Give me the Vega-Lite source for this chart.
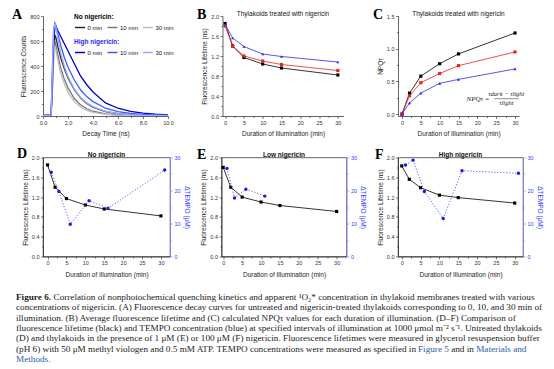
{
 "$schema": "https://vega.github.io/schema/vega-lite/v6.json",
 "background": "white",
 "padding": {"left": 12, "top": 8, "right": 2, "bottom": 2},
 "config": {
  "font": "Liberation Sans",
  "view": {"stroke": null},
  "axis": {"labelFont": "Liberation Sans", "titleFont": "Liberation Sans", "labelFontSize": 5.5, "labelColor": "#333", "titleFontSize": 6.5, "titleFontWeight": "normal", "titleColor": "#222", "domainColor": "#222", "domainWidth": 0.7, "tickColor": "#222", "tickWidth": 0.6, "tickSize": 2.5, "grid": false, "labelPadding": 1.5, "titlePadding": 3, "labelFlush": false, "labelOverlap": false},
  "axisX": {"titlePadding": 5},
  "legend": {"labelFont": "Liberation Sans", "titleFont": "Liberation Sans", "labelFontSize": 6, "titleFontSize": 6.5},
  "title": {"font": "Liberation Sans", "fontSize": 6.5, "color": "#111", "fontWeight": "normal", "offset": 2}
 },
 "datasets": {
  "decay": [
   {"g":"N","s":"0 min","t":0,"c":5},{"g":"N","s":"0 min","t":0.5,"c":5},{"g":"N","s":"0 min","t":0.65,"c":8},{"g":"N","s":"0 min","t":0.75,"c":250},{"g":"N","s":"0 min","t":0.85,"c":520},{"g":"N","s":"0 min","t":0.95,"c":650},{"g":"N","s":"0 min","t":1.05,"c":620},{"g":"N","s":"0 min","t":1.2,"c":550},{"g":"N","s":"0 min","t":1.4,"c":470},{"g":"N","s":"0 min","t":1.7,"c":380},{"g":"N","s":"0 min","t":2,"c":305},{"g":"N","s":"0 min","t":2.5,"c":210},{"g":"N","s":"0 min","t":3,"c":145},{"g":"N","s":"0 min","t":3.5,"c":100},{"g":"N","s":"0 min","t":4,"c":70},{"g":"N","s":"0 min","t":5,"c":35},{"g":"N","s":"0 min","t":6,"c":18},{"g":"N","s":"0 min","t":7,"c":10},{"g":"N","s":"0 min","t":8,"c":6},{"g":"N","s":"0 min","t":9,"c":4},{"g":"N","s":"0 min","t":10,"c":3},
   {"g":"N","s":"10 min","t":0,"c":5},{"g":"N","s":"10 min","t":0.5,"c":5},{"g":"N","s":"10 min","t":0.65,"c":8},{"g":"N","s":"10 min","t":0.75,"c":220},{"g":"N","s":"10 min","t":0.85,"c":480},{"g":"N","s":"10 min","t":0.95,"c":600},{"g":"N","s":"10 min","t":1.05,"c":560},{"g":"N","s":"10 min","t":1.2,"c":480},{"g":"N","s":"10 min","t":1.4,"c":390},{"g":"N","s":"10 min","t":1.7,"c":295},{"g":"N","s":"10 min","t":2,"c":225},{"g":"N","s":"10 min","t":2.5,"c":140},{"g":"N","s":"10 min","t":3,"c":90},{"g":"N","s":"10 min","t":3.5,"c":58},{"g":"N","s":"10 min","t":4,"c":38},{"g":"N","s":"10 min","t":5,"c":17},{"g":"N","s":"10 min","t":6,"c":8},{"g":"N","s":"10 min","t":7,"c":5},{"g":"N","s":"10 min","t":8,"c":3},{"g":"N","s":"10 min","t":9,"c":2},{"g":"N","s":"10 min","t":10,"c":2},
   {"g":"N","s":"30 min","t":0,"c":5},{"g":"N","s":"30 min","t":0.5,"c":5},{"g":"N","s":"30 min","t":0.65,"c":8},{"g":"N","s":"30 min","t":0.75,"c":200},{"g":"N","s":"30 min","t":0.85,"c":450},{"g":"N","s":"30 min","t":0.95,"c":560},{"g":"N","s":"30 min","t":1.05,"c":520},{"g":"N","s":"30 min","t":1.2,"c":440},{"g":"N","s":"30 min","t":1.4,"c":350},{"g":"N","s":"30 min","t":1.7,"c":260},{"g":"N","s":"30 min","t":2,"c":190},{"g":"N","s":"30 min","t":2.5,"c":115},{"g":"N","s":"30 min","t":3,"c":72},{"g":"N","s":"30 min","t":3.5,"c":45},{"g":"N","s":"30 min","t":4,"c":29},{"g":"N","s":"30 min","t":5,"c":13},{"g":"N","s":"30 min","t":6,"c":6},{"g":"N","s":"30 min","t":7,"c":4},{"g":"N","s":"30 min","t":8,"c":2},{"g":"N","s":"30 min","t":9,"c":2},{"g":"N","s":"30 min","t":10,"c":2},
   {"g":"H","s":"0 min","t":0,"c":5},{"g":"H","s":"0 min","t":0.5,"c":5},{"g":"H","s":"0 min","t":0.65,"c":10},{"g":"H","s":"0 min","t":0.75,"c":300},{"g":"H","s":"0 min","t":0.85,"c":600},{"g":"H","s":"0 min","t":0.95,"c":700},{"g":"H","s":"0 min","t":1.05,"c":715},{"g":"H","s":"0 min","t":1.2,"c":680},{"g":"H","s":"0 min","t":1.4,"c":640},{"g":"H","s":"0 min","t":1.7,"c":580},{"g":"H","s":"0 min","t":2,"c":520},{"g":"H","s":"0 min","t":2.5,"c":420},{"g":"H","s":"0 min","t":3,"c":320},{"g":"H","s":"0 min","t":3.5,"c":250},{"g":"H","s":"0 min","t":4,"c":192},{"g":"H","s":"0 min","t":5,"c":105},{"g":"H","s":"0 min","t":6,"c":62},{"g":"H","s":"0 min","t":7,"c":37},{"g":"H","s":"0 min","t":8,"c":23},{"g":"H","s":"0 min","t":9,"c":14},{"g":"H","s":"0 min","t":10,"c":9},
   {"g":"H","s":"10 min","t":0,"c":5},{"g":"H","s":"10 min","t":0.5,"c":5},{"g":"H","s":"10 min","t":0.65,"c":10},{"g":"H","s":"10 min","t":0.75,"c":350},{"g":"H","s":"10 min","t":0.85,"c":680},{"g":"H","s":"10 min","t":0.95,"c":745},{"g":"H","s":"10 min","t":1.05,"c":720},{"g":"H","s":"10 min","t":1.2,"c":650},{"g":"H","s":"10 min","t":1.4,"c":570},{"g":"H","s":"10 min","t":1.7,"c":470},{"g":"H","s":"10 min","t":2,"c":390},{"g":"H","s":"10 min","t":2.5,"c":290},{"g":"H","s":"10 min","t":3,"c":210},{"g":"H","s":"10 min","t":3.5,"c":155},{"g":"H","s":"10 min","t":4,"c":115},{"g":"H","s":"10 min","t":5,"c":62},{"g":"H","s":"10 min","t":6,"c":35},{"g":"H","s":"10 min","t":7,"c":20},{"g":"H","s":"10 min","t":8,"c":12},{"g":"H","s":"10 min","t":9,"c":8},{"g":"H","s":"10 min","t":10,"c":5},
   {"g":"H","s":"30 min","t":0,"c":5},{"g":"H","s":"30 min","t":0.5,"c":5},{"g":"H","s":"30 min","t":0.65,"c":10},{"g":"H","s":"30 min","t":0.75,"c":380},{"g":"H","s":"30 min","t":0.85,"c":700},{"g":"H","s":"30 min","t":0.95,"c":740},{"g":"H","s":"30 min","t":1.05,"c":700},{"g":"H","s":"30 min","t":1.2,"c":610},{"g":"H","s":"30 min","t":1.4,"c":510},{"g":"H","s":"30 min","t":1.7,"c":400},{"g":"H","s":"30 min","t":2,"c":315},{"g":"H","s":"30 min","t":2.5,"c":215},{"g":"H","s":"30 min","t":3,"c":150},{"g":"H","s":"30 min","t":3.5,"c":105},{"g":"H","s":"30 min","t":4,"c":75},{"g":"H","s":"30 min","t":5,"c":38},{"g":"H","s":"30 min","t":6,"c":20},{"g":"H","s":"30 min","t":7,"c":11},{"g":"H","s":"30 min","t":8,"c":6},{"g":"H","s":"30 min","t":9,"c":4},{"g":"H","s":"30 min","t":10,"c":3}
  ],
  "life": [
   {"cond":"No nigericin","min":0,"lt":1.85,"npq":0},{"cond":"No nigericin","min":2,"lt":1.40,"npq":0.32},{"cond":"No nigericin","min":5,"lt":1.17,"npq":0.58},{"cond":"No nigericin","min":10,"lt":1.04,"npq":0.77},{"cond":"No nigericin","min":15,"lt":0.96,"npq":0.92},{"cond":"No nigericin","min":30,"lt":0.82,"npq":1.24},
   {"cond":"Low nigericin","min":0,"lt":1.80,"npq":0},{"cond":"Low nigericin","min":2,"lt":1.40,"npq":0.28},{"cond":"Low nigericin","min":5,"lt":1.20,"npq":0.48},{"cond":"Low nigericin","min":10,"lt":1.10,"npq":0.62},{"cond":"Low nigericin","min":15,"lt":1.03,"npq":0.74},{"cond":"Low nigericin","min":30,"lt":0.91,"npq":0.95},
   {"cond":"High nigericin","min":0,"lt":1.83,"npq":0},{"cond":"High nigericin","min":2,"lt":1.56,"npq":0.17},{"cond":"High nigericin","min":5,"lt":1.39,"npq":0.32},{"cond":"High nigericin","min":10,"lt":1.24,"npq":0.47},{"cond":"High nigericin","min":15,"lt":1.19,"npq":0.53},{"cond":"High nigericin","min":30,"lt":1.08,"npq":0.69}
  ],
  "tempo": [
   {"cond":"No nigericin","min":1,"tempo":25.5},{"cond":"No nigericin","min":3,"tempo":19.7},{"cond":"No nigericin","min":6,"tempo":9.8},{"cond":"No nigericin","min":11,"tempo":16.9},{"cond":"No nigericin","min":16,"tempo":14.6},{"cond":"No nigericin","min":31,"tempo":26.2},
   {"cond":"Low nigericin","min":1,"tempo":26.7},{"cond":"Low nigericin","min":3,"tempo":17.7},{"cond":"Low nigericin","min":6,"tempo":20.4},{"cond":"Low nigericin","min":11,"tempo":18.3},
   {"cond":"High nigericin","min":1,"tempo":27.7},{"cond":"High nigericin","min":3,"tempo":29.2},{"cond":"High nigericin","min":6,"tempo":19.7},{"cond":"High nigericin","min":11,"tempo":11.5},{"cond":"High nigericin","min":16,"tempo":26.0},{"cond":"High nigericin","min":31,"tempo":25.2}
  ],
  "caption": [
   {"line":1,"part":"bold","text":"Figure 6."},
   {"line":1,"part":"rest","text":"Correlation of nonphotochemical quenching kinetics and apparent ¹O₂* concentration in thylakoid membranes treated with various"},
   {"line":2,"part":"main","text":"concentrations of nigericin. (A) Fluorescence decay curves for untreated and nigericin-treated thylakoids corresponding to 0, 10, and 30 min of"},
   {"line":3,"part":"main","text":"illumination. (B) Average fluorescence lifetime and (C) calculated NPQτ values for each duration of illumination. (D–F) Comparison of"},
   {"line":4,"part":"main","text":"fluorescence lifetime (black) and TEMPO concentration (blue) at specified intervals of illumination at 1000 μmol m⁻² s⁻¹. Untreated thylakoids"},
   {"line":5,"part":"main","text":"(D) and thylakoids in the presence of 1 μM (E) or 100 μM (F) nigericin. Fluorescence lifetimes were measured in glycerol resuspension buffer"},
   {"line":6,"part":"main","text":"(pH 6) with 50 μM methyl viologen and 0.5 mM ATP. TEMPO concentrations were measured as specified in"},
   {"line":6,"part":"link1","text":"Figure 5"},
   {"line":6,"part":"mid","text":"and in"},
   {"line":6,"part":"link2","text":"Materials and"},
   {"line":7,"part":"link3","text":"Methods."}
  ]
 },
 "spacing": 14,
 "vconcat": [
  {
   "spacing": 9.5,
   "vconcat": [
    {
     "bounds": "flush",
     "spacing": 54.5,
     "hconcat": [
      {
       "width": 125, "height": 100,
       "layer": [
        {
         "data": {"name": "decay"},
         "transform": [{"filter": "datum.g === 'N'"}],
         "mark": {"type": "line", "strokeWidth": 1.3, "clip": true},
         "encoding": {
          "x": {"field": "t", "type": "quantitative", "scale": {"domain": [0, 10], "nice": false}, "axis": {"title": "Decay Time (ns)", "values": [0,1,2,3,4,5,6,7,8,9,10], "tickCount": 40, "labelExpr": "datum.value % 2 === 0 ? datum.label : ''", "tickSize": {"condition": {"test": "datum.value % 2 === 0", "value": 2.5}, "value": 1.5}}},
          "y": {"field": "c", "type": "quantitative", "scale": {"domain": [0, 800], "nice": false}, "axis": {"title": "Fluorescence Counts", "values": [0,100,200,300,400,500,600,700,800], "tickCount": 40, "labelExpr": "datum.value % 200 === 0 ? datum.label : ''", "tickSize": {"condition": {"test": "datum.value % 200 === 0", "value": 2.5}, "value": 1.5}}},
          "color": {"field": "s", "type": "nominal", "sort": ["0 min", "10 min", "30 min"], "scale": {"domain": ["0 min", "10 min", "30 min"], "range": ["#2b2b2b", "#7a7a7a", "#bdbdbd"]},
           "legend": {"title": "No nigericin:", "orient": "none", "legendX": 31, "legendY": -2, "direction": "horizontal", "symbolType": "stroke", "symbolSize": 100, "symbolStrokeWidth": 1.5, "labelFontSize": 6, "titleFontSize": 6.5, "titleFontWeight": "bold", "titleColor": "#000", "labelColor": "#111", "titlePadding": 1, "columnPadding": 1.5, "labelOffset": 1.5}}
         }
        },
        {
         "data": {"name": "decay"},
         "transform": [{"filter": "datum.g === 'H'"}],
         "mark": {"type": "line", "strokeWidth": 1.3, "clip": true},
         "encoding": {
          "x": {"field": "t", "type": "quantitative", "scale": {"domain": [0, 10], "nice": false}, "axis": {"title": "Decay Time (ns)", "values": [0,1,2,3,4,5,6,7,8,9,10], "tickCount": 40, "labelExpr": "datum.value % 2 === 0 ? datum.label : ''", "tickSize": {"condition": {"test": "datum.value % 2 === 0", "value": 2.5}, "value": 1.5}}},
          "y": {"field": "c", "type": "quantitative", "scale": {"domain": [0, 800], "nice": false}, "axis": {"title": "Fluorescence Counts", "values": [0,100,200,300,400,500,600,700,800], "tickCount": 40, "labelExpr": "datum.value % 200 === 0 ? datum.label : ''", "tickSize": {"condition": {"test": "datum.value % 200 === 0", "value": 2.5}, "value": 1.5}}},
          "color": {"field": "s", "type": "nominal", "sort": ["0 min", "10 min", "30 min"], "scale": {"domain": ["0 min", "10 min", "30 min"], "range": ["#0000c8", "#3d5cff", "#9caaff"]},
           "legend": {"title": "High nigericin:", "orient": "none", "legendX": 31, "legendY": 23, "direction": "horizontal", "symbolType": "stroke", "symbolSize": 100, "symbolStrokeWidth": 1.5, "labelFontSize": 6, "titleFontSize": 6.5, "titleFontWeight": "bold", "titleColor": "#2a2aee", "labelColor": "#111", "titlePadding": 1, "columnPadding": 1.5, "labelOffset": 1.5}}
         }
        },
        {
         "data": {"values": [{}]},
         "mark": {"type": "text", "font": "Liberation Serif", "fontSize": 14, "fontWeight": "bold", "align": "left", "baseline": "middle", "color": "#000"},
         "encoding": {"x": {"datum": -2.48, "type": "quantitative"}, "y": {"datum": 808, "type": "quantitative"}, "text": {"value": "A"}}
        }
       ],
       "resolve": {"scale": {"color": "independent"}}
      },
      {
       "width": 121, "height": 100,
       "title": {"text": "Thylakoids treated with nigericin", "dy": 11},
       "layer": [
        {
         "data": {"name": "life"},
         "mark": {"type": "line", "strokeWidth": 0.8},
         "encoding": {
          "x": {"field": "min", "type": "quantitative", "scale": {"domain": [-0.7, 31.5], "nice": false}, "axis": {"title": "Duration of Illumination (min)", "values": [0,2.5,5,7.5,10,12.5,15,17.5,20,22.5,25,27.5,30], "tickCount": 40, "labelExpr": "datum.value % 5 === 0 ? datum.label : ''", "tickSize": {"condition": {"test": "datum.value % 5 === 0", "value": 2.5}, "value": 1.5}}},
          "y": {"field": "lt", "type": "quantitative", "scale": {"domain": [0, 2], "nice": false}, "axis": {"title": "Fluorescence Lifetime (ns)", "values": [0,0.2,0.4,0.6,0.8,1.0,1.2,1.4,1.6,1.8,2.0], "format": ".1f", "tickCount": 40, "labelExpr": "round(datum.value*10) % 4 === 0 ? datum.label : ''", "tickSize": {"condition": {"test": "round(datum.value*10) % 4 === 0", "value": 2.5}, "value": 1.5}}},
          "color": {"field": "cond", "type": "nominal", "scale": {"domain": ["No nigericin", "Low nigericin", "High nigericin"], "range": ["#000000", "#e8231f", "#2b2bf0"]}, "legend": null}
         }
        },
        {
         "data": {"name": "life"},
         "mark": {"type": "point", "filled": true, "size": 10, "opacity": 1},
         "encoding": {
          "x": {"field": "min", "type": "quantitative"},
          "y": {"field": "lt", "type": "quantitative"},
          "color": {"field": "cond", "type": "nominal", "scale": {"domain": ["No nigericin", "Low nigericin", "High nigericin"], "range": ["#000000", "#e8231f", "#2b2bf0"]},
           "legend": {"title": null, "orient": "top-right", "offset": 5, "labelFontSize": 6.5, "labelFontWeight": "bold", "symbolSize": 14, "rowPadding": 0.5, "labelOffset": 3,
            "encode": {"labels": {"update": {"fill": {"signal": "datum.value === 'No nigericin' ? '#000000' : datum.value === 'Low nigericin' ? '#e8231f' : '#2b2bf0'"}}}}}},
          "shape": {"field": "cond", "type": "nominal", "scale": {"domain": ["No nigericin", "Low nigericin", "High nigericin"], "range": ["square", "square", "triangle-up"]},
           "legend": {"title": null, "orient": "top-right", "offset": 5, "labelFontSize": 6.5, "labelFontWeight": "bold", "symbolSize": 14, "rowPadding": 0.5, "labelOffset": 3,
            "encode": {"labels": {"update": {"fill": {"signal": "datum.value === 'No nigericin' ? '#000000' : datum.value === 'Low nigericin' ? '#e8231f' : '#2b2bf0'"}}}}}}
         }
        },
        {
         "data": {"values": [{}]},
         "mark": {"type": "text", "font": "Liberation Serif", "fontSize": 14, "fontWeight": "bold", "align": "left", "baseline": "middle", "color": "#000"},
         "encoding": {"x": {"datum": -7.5, "type": "quantitative"}, "y": {"datum": 2.02, "type": "quantitative"}, "text": {"value": "B"}}
        }
       ]
      },
      {
       "width": 121, "height": 100,
       "title": {"text": "Thylakoids treated with nigericin", "dy": 11},
       "layer": [
        {
         "data": {"name": "life"},
         "mark": {"type": "line", "strokeWidth": 0.8},
         "encoding": {
          "x": {"field": "min", "type": "quantitative", "scale": {"domain": [-1.06, 31.06], "nice": false}, "axis": {"title": "Duration of Illumination (min)", "values": [0,2.5,5,7.5,10,12.5,15,17.5,20,22.5,25,27.5,30], "tickCount": 40, "labelExpr": "datum.value % 5 === 0 ? datum.label : ''", "tickSize": {"condition": {"test": "datum.value % 5 === 0", "value": 2.5}, "value": 1.5}}},
          "y": {"field": "npq", "type": "quantitative", "scale": {"domain": [-0.03, 1.5], "nice": false}, "axis": {"title": "NPQτ", "values": [0,0.25,0.5,0.75,1.0,1.25,1.5], "format": ".1f", "tickCount": 40, "labelExpr": "round(datum.value*4) % 2 === 0 ? datum.label : ''", "tickSize": {"condition": {"test": "round(datum.value*4) % 2 === 0", "value": 2.5}, "value": 1.5}}},
          "color": {"field": "cond", "type": "nominal", "scale": {"domain": ["No nigericin", "Low nigericin", "High nigericin"], "range": ["#000000", "#e8231f", "#2b2bf0"]}, "legend": null}
         }
        },
        {
         "data": {"name": "life"},
         "mark": {"type": "point", "filled": true, "size": 10, "opacity": 1},
         "encoding": {
          "x": {"field": "min", "type": "quantitative"},
          "y": {"field": "npq", "type": "quantitative"},
          "color": {"field": "cond", "type": "nominal", "scale": {"domain": ["No nigericin", "Low nigericin", "High nigericin"], "range": ["#000000", "#e8231f", "#2b2bf0"]},
           "legend": {"title": null, "orient": "top-left", "offset": 6, "labelFontSize": 6.5, "labelFontWeight": "bold", "symbolSize": 14, "rowPadding": 0.5, "labelOffset": 3,
            "encode": {"labels": {"update": {"fill": {"signal": "datum.value === 'No nigericin' ? '#000000' : datum.value === 'Low nigericin' ? '#e8231f' : '#2b2bf0'"}}}}}},
          "shape": {"field": "cond", "type": "nominal", "scale": {"domain": ["No nigericin", "Low nigericin", "High nigericin"], "range": ["square", "square", "triangle-up"]},
           "legend": {"title": null, "orient": "top-left", "offset": 6, "labelFontSize": 6.5, "labelFontWeight": "bold", "symbolSize": 14, "rowPadding": 0.5, "labelOffset": 3,
            "encode": {"labels": {"update": {"fill": {"signal": "datum.value === 'No nigericin' ? '#000000' : datum.value === 'Low nigericin' ? '#e8231f' : '#2b2bf0'"}}}}}}
         }
        },
        {
         "data": {"values": [{}]},
         "mark": {"type": "text", "font": "Liberation Serif", "fontSize": 14, "fontWeight": "bold", "align": "left", "baseline": "middle", "color": "#000"},
         "encoding": {"x": {"datum": -7.7, "type": "quantitative"}, "y": {"datum": 1.515, "type": "quantitative"}, "text": {"value": "C"}}
        },
        {
         "data": {"values": [{}]},
         "mark": {"type": "text", "font": "Liberation Serif", "fontSize": 7, "fontStyle": "italic", "align": "center", "baseline": "middle", "color": "#222"},
         "encoding": {"x": {"datum": 20.2, "type": "quantitative"}, "y": {"datum": 0.235, "type": "quantitative"}, "text": {"value": "NPQτ ="}}
        },
        {
         "data": {"values": [{}]},
         "mark": {"type": "text", "font": "Liberation Serif", "fontSize": 6.5, "fontStyle": "italic", "align": "center", "baseline": "middle", "color": "#222"},
         "encoding": {"x": {"datum": 27.7, "type": "quantitative"}, "y": {"datum": 0.3, "type": "quantitative"}, "text": {"value": "τdark − τlight"}}
        },
        {
         "data": {"values": [{}]},
         "mark": {"type": "text", "font": "Liberation Serif", "fontSize": 6.5, "fontStyle": "italic", "align": "center", "baseline": "middle", "color": "#222"},
         "encoding": {"x": {"datum": 27.7, "type": "quantitative"}, "y": {"datum": 0.17, "type": "quantitative"}, "text": {"value": "τlight"}}
        },
        {
         "data": {"values": [{}]},
         "mark": {"type": "rule", "color": "#222", "strokeWidth": 0.5},
         "encoding": {"x": {"datum": 24.5, "type": "quantitative"}, "x2": {"datum": 31}, "y": {"datum": 0.235, "type": "quantitative"}}
        }
       ]
      }
     ]
    },
    {
     "bounds": "flush",
     "spacing": 51.5,
     "hconcat": [
      {
       "width": 127, "height": 99,
       "title": {"text": "No nigericin", "fontWeight": "bold", "dy": 13.5},
       "view": {"stroke": "#222", "strokeWidth": 0.7},
       "layer": [
        {"layer": [
         {"data": {"name": "life"}, "transform": [{"filter": "datum.cond === 'No nigericin'"}],
          "mark": {"type": "line", "color": "#000", "strokeWidth": 0.8},
          "encoding": {"x": {"field": "min", "type": "quantitative", "scale": {"domain": [-1.2, 32.4], "nice": false}, "axis": {"title": "Duration of Illumination (min)", "values": [0,2.5,5,7.5,10,12.5,15,17.5,20,22.5,25,27.5,30], "tickCount": 40, "labelExpr": "datum.value % 5 === 0 ? datum.label : ''", "tickSize": {"condition": {"test": "datum.value % 5 === 0", "value": 2.5}, "value": 1.5}}},
                       "y": {"field": "lt", "type": "quantitative", "scale": {"domain": [0, 2], "nice": false}, "axis": {"title": "Fluorescence Lifetime (ns)", "values": [0,0.2,0.4,0.6,0.8,1.0,1.2,1.4,1.6,1.8,2.0], "format": ".1f", "tickCount": 40, "labelExpr": "round(datum.value*10) % 4 === 0 ? datum.label : ''", "tickSize": {"condition": {"test": "round(datum.value*10) % 4 === 0", "value": 2.5}, "value": 1.5}}}}},
         {"data": {"name": "life"}, "transform": [{"filter": "datum.cond === 'No nigericin'"}],
          "mark": {"type": "point", "shape": "square", "filled": true, "color": "#000", "size": 10, "opacity": 1},
          "encoding": {"x": {"field": "min", "type": "quantitative"}, "y": {"field": "lt", "type": "quantitative"}}},
         {"data": {"values": [{}]},
          "mark": {"type": "text", "font": "Liberation Serif", "fontSize": 14, "fontWeight": "bold", "align": "left", "baseline": "middle", "color": "#000"},
          "encoding": {"x": {"datum": -8.1, "type": "quantitative"}, "y": {"datum": 2.07, "type": "quantitative"}, "text": {"value": "D"}}}
        ]},
        {"layer": [
         {"data": {"name": "tempo"}, "transform": [{"filter": "datum.cond === 'No nigericin'"}],
          "mark": {"type": "line", "color": "#4d4dff", "strokeWidth": 0.9, "strokeDash": [1.2, 1.8]},
          "encoding": {"x": {"field": "min", "type": "quantitative"},
                       "y": {"field": "tempo", "type": "quantitative", "scale": {"domain": [0, 30], "nice": false}, "axis": {"orient": "right", "title": "ΔTEMPO (μM)", "values": [0,5,10,15,20,25,30], "tickCount": 40, "labelExpr": "datum.value % 10 === 0 ? datum.label : ''", "tickSize": {"condition": {"test": "datum.value % 10 === 0", "value": 2.5}, "value": 1.5}, "domainColor": "#8080ff", "tickColor": "#8080ff", "labelColor": "#3b3bff", "titleColor": "#3b3bff"}}}},
         {"data": {"name": "tempo"}, "transform": [{"filter": "datum.cond === 'No nigericin'"}],
          "mark": {"type": "point", "shape": "circle", "filled": true, "color": "#1a1aee", "size": 12, "opacity": 1},
          "encoding": {"x": {"field": "min", "type": "quantitative"}, "y": {"field": "tempo", "type": "quantitative"}}}
        ]}
       ],
       "resolve": {"scale": {"y": "independent"}}
      },
      {
       "width": 125, "height": 99,
       "title": {"text": "Low nigericin", "fontWeight": "bold", "dy": 12.5},
       "view": {"stroke": "#222", "strokeWidth": 0.7},
       "layer": [
        {"layer": [
         {"data": {"name": "life"}, "transform": [{"filter": "datum.cond === 'Low nigericin'"}],
          "mark": {"type": "line", "color": "#000", "strokeWidth": 0.8},
          "encoding": {"x": {"field": "min", "type": "quantitative", "scale": {"domain": [-0.45, 32.6], "nice": false}, "axis": {"title": "Duration of Illumination (min)", "values": [0,2.5,5,7.5,10,12.5,15,17.5,20,22.5,25,27.5,30], "tickCount": 40, "labelExpr": "datum.value % 5 === 0 ? datum.label : ''", "tickSize": {"condition": {"test": "datum.value % 5 === 0", "value": 2.5}, "value": 1.5}}},
                       "y": {"field": "lt", "type": "quantitative", "scale": {"domain": [0, 2], "nice": false}, "axis": {"title": "Fluorescence Lifetime (ns)", "values": [0,0.2,0.4,0.6,0.8,1.0,1.2,1.4,1.6,1.8,2.0], "format": ".1f", "tickCount": 40, "labelExpr": "round(datum.value*10) % 4 === 0 ? datum.label : ''", "tickSize": {"condition": {"test": "round(datum.value*10) % 4 === 0", "value": 2.5}, "value": 1.5}}}}},
         {"data": {"name": "life"}, "transform": [{"filter": "datum.cond === 'Low nigericin'"}],
          "mark": {"type": "point", "shape": "square", "filled": true, "color": "#000", "size": 10, "opacity": 1},
          "encoding": {"x": {"field": "min", "type": "quantitative"}, "y": {"field": "lt", "type": "quantitative"}}},
         {"data": {"values": [{}]},
          "mark": {"type": "text", "font": "Liberation Serif", "fontSize": 14, "fontWeight": "bold", "align": "left", "baseline": "middle", "color": "#000"},
          "encoding": {"x": {"datum": -6.9, "type": "quantitative"}, "y": {"datum": 2.05, "type": "quantitative"}, "text": {"value": "E"}}}
        ]},
        {"layer": [
         {"data": {"name": "tempo"}, "transform": [{"filter": "datum.cond === 'Low nigericin'"}],
          "mark": {"type": "line", "color": "#4d4dff", "strokeWidth": 0.9, "strokeDash": [1.2, 1.8]},
          "encoding": {"x": {"field": "min", "type": "quantitative"},
                       "y": {"field": "tempo", "type": "quantitative", "scale": {"domain": [0, 30], "nice": false}, "axis": {"orient": "right", "title": "ΔTEMPO (μM)", "values": [0,5,10,15,20,25,30], "tickCount": 40, "labelExpr": "datum.value % 10 === 0 ? datum.label : ''", "tickSize": {"condition": {"test": "datum.value % 10 === 0", "value": 2.5}, "value": 1.5}, "domainColor": "#8080ff", "tickColor": "#8080ff", "labelColor": "#3b3bff", "titleColor": "#3b3bff"}}}},
         {"data": {"name": "tempo"}, "transform": [{"filter": "datum.cond === 'Low nigericin'"}],
          "mark": {"type": "point", "shape": "circle", "filled": true, "color": "#1a1aee", "size": 12, "opacity": 1},
          "encoding": {"x": {"field": "min", "type": "quantitative"}, "y": {"field": "tempo", "type": "quantitative"}}}
        ]}
       ],
       "resolve": {"scale": {"y": "independent"}}
      },
      {
       "width": 125, "height": 99,
       "title": {"text": "High nigericin", "fontWeight": "bold", "dy": 12.5},
       "view": {"stroke": "#222", "strokeWidth": 0.7},
       "layer": [
        {"layer": [
         {"data": {"name": "life"}, "transform": [{"filter": "datum.cond === 'High nigericin'"}],
          "mark": {"type": "line", "color": "#000", "strokeWidth": 0.8},
          "encoding": {"x": {"field": "min", "type": "quantitative", "scale": {"domain": [-1.0, 32.2], "nice": false}, "axis": {"title": "Duration of Illumination (min)", "values": [0,2.5,5,7.5,10,12.5,15,17.5,20,22.5,25,27.5,30], "tickCount": 40, "labelExpr": "datum.value % 5 === 0 ? datum.label : ''", "tickSize": {"condition": {"test": "datum.value % 5 === 0", "value": 2.5}, "value": 1.5}}},
                       "y": {"field": "lt", "type": "quantitative", "scale": {"domain": [0, 2], "nice": false}, "axis": {"title": "Fluorescence Lifetime (ns)", "values": [0,0.2,0.4,0.6,0.8,1.0,1.2,1.4,1.6,1.8,2.0], "format": ".1f", "tickCount": 40, "labelExpr": "round(datum.value*10) % 4 === 0 ? datum.label : ''", "tickSize": {"condition": {"test": "round(datum.value*10) % 4 === 0", "value": 2.5}, "value": 1.5}}}}},
         {"data": {"name": "life"}, "transform": [{"filter": "datum.cond === 'High nigericin'"}],
          "mark": {"type": "point", "shape": "square", "filled": true, "color": "#000", "size": 10, "opacity": 1},
          "encoding": {"x": {"field": "min", "type": "quantitative"}, "y": {"field": "lt", "type": "quantitative"}}},
         {"data": {"values": [{}]},
          "mark": {"type": "text", "font": "Liberation Serif", "fontSize": 14, "fontWeight": "bold", "align": "left", "baseline": "middle", "color": "#000"},
          "encoding": {"x": {"datum": -7.1, "type": "quantitative"}, "y": {"datum": 2.05, "type": "quantitative"}, "text": {"value": "F"}}}
        ]},
        {"layer": [
         {"data": {"name": "tempo"}, "transform": [{"filter": "datum.cond === 'High nigericin'"}],
          "mark": {"type": "line", "color": "#4d4dff", "strokeWidth": 0.9, "strokeDash": [1.2, 1.8]},
          "encoding": {"x": {"field": "min", "type": "quantitative"},
                       "y": {"field": "tempo", "type": "quantitative", "scale": {"domain": [0, 30], "nice": false}, "axis": {"orient": "right", "title": "ΔTEMPO (μM)", "values": [0,5,10,15,20,25,30], "tickCount": 40, "labelExpr": "datum.value % 10 === 0 ? datum.label : ''", "tickSize": {"condition": {"test": "datum.value % 10 === 0", "value": 2.5}, "value": 1.5}, "domainColor": "#8080ff", "tickColor": "#8080ff", "labelColor": "#3b3bff", "titleColor": "#3b3bff"}}}},
         {"data": {"name": "tempo"}, "transform": [{"filter": "datum.cond === 'High nigericin'"}],
          "mark": {"type": "point", "shape": "circle", "filled": true, "color": "#1a1aee", "size": 12, "opacity": 1},
          "encoding": {"x": {"field": "min", "type": "quantitative"}, "y": {"field": "tempo", "type": "quantitative"}}}
        ]}
       ],
       "resolve": {"scale": {"y": "independent"}}
      }
     ]
    }
   ]
  },
  {
   "width": 522, "height": 72,
   "data": {"name": "caption"},
   "encoding": {
    "x": {"datum": 0, "type": "quantitative", "scale": {"domain": [0, 1], "range": [-27, 495]}, "axis": null},
    "y": {"field": "line", "type": "quantitative", "scale": {"domain": [0.5, 7.5], "reverse": true}, "axis": null},
    "text": {"field": "text"}
   },
   "layer": [
    {"transform": [{"filter": "datum.part === 'bold'"}], "mark": {"type": "text", "align": "left", "baseline": "middle", "font": "Liberation Serif", "fontSize": 9.2, "fontWeight": "bold", "color": "#222"}},
    {"transform": [{"filter": "datum.part === 'rest'"}], "mark": {"type": "text", "align": "left", "baseline": "middle", "font": "Liberation Serif", "fontSize": 9.2, "color": "#222", "dx": 37.5}},
    {"transform": [{"filter": "datum.part === 'main'"}], "mark": {"type": "text", "align": "left", "baseline": "middle", "font": "Liberation Serif", "fontSize": 9.2, "color": "#222"}},
    {"transform": [{"filter": "datum.part === 'link1'"}], "mark": {"type": "text", "align": "left", "baseline": "middle", "font": "Liberation Serif", "fontSize": 9.2, "color": "#2a5db0", "dx": 402}},
    {"transform": [{"filter": "datum.part === 'mid'"}], "mark": {"type": "text", "align": "left", "baseline": "middle", "font": "Liberation Serif", "fontSize": 9.2, "color": "#222", "dx": 435.2}},
    {"transform": [{"filter": "datum.part === 'link2'"}], "mark": {"type": "text", "align": "left", "baseline": "middle", "font": "Liberation Serif", "fontSize": 9.2, "color": "#2a5db0", "dx": 460.2}},
    {"transform": [{"filter": "datum.part === 'link3'"}], "mark": {"type": "text", "align": "left", "baseline": "middle", "font": "Liberation Serif", "fontSize": 9.2, "color": "#2a5db0"}}
   ]
  }
 ]
}
